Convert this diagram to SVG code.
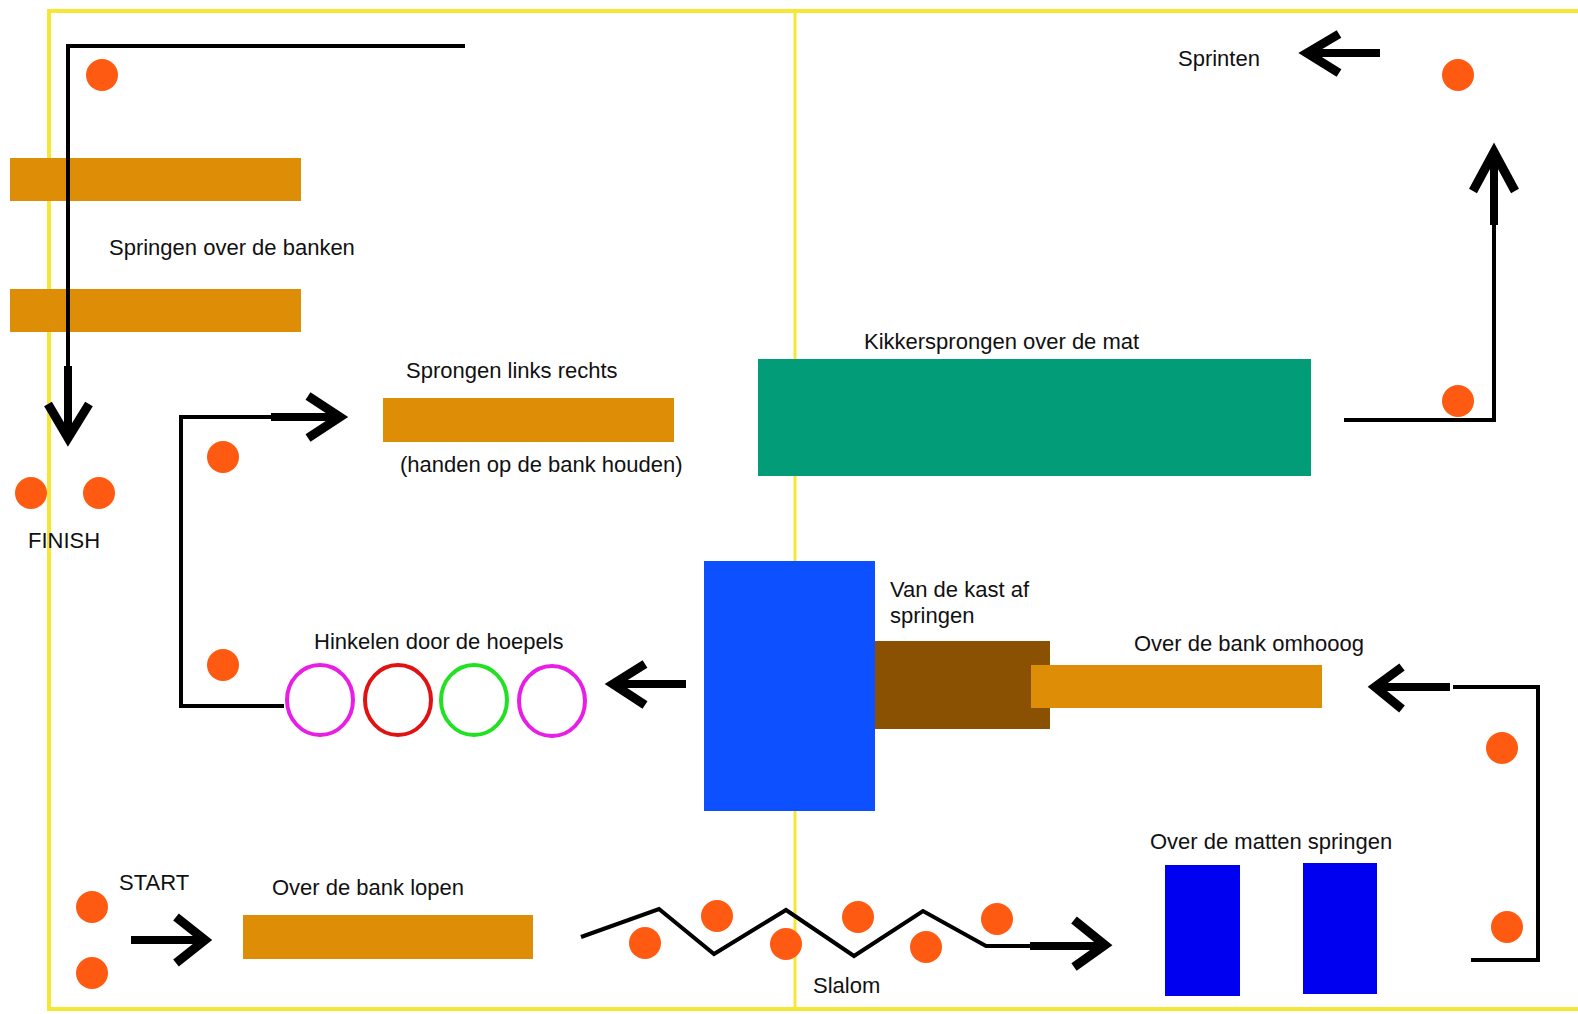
<svg xmlns="http://www.w3.org/2000/svg" width="1578" height="1014" viewBox="0 0 1578 1014">
<style>
text{font-family:"Liberation Sans",Arial,sans-serif;font-size:22px;fill:#111}
.bench{fill:#DD8E06}
.dot{fill:#FF5A12}
.thin{fill:none;stroke:#000;stroke-width:4;stroke-linejoin:miter}
.thick{fill:none;stroke:#000;stroke-width:8}
.head{fill:none;stroke:#000;stroke-width:9;stroke-linejoin:miter;stroke-miterlimit:10}
.hoop{fill:none;stroke-width:4}
.border{fill:none;stroke:#F5E734;stroke-width:4}
</style>
<rect width="1578" height="1014" fill="#fff"/>
<g id="field">
<path class="border" d="M1578,11 H49 V1009 H1578"/>
<line x1="795" y1="11" x2="795" y2="1009" stroke="#F5E734" stroke-width="3"/>
</g>
<g id="banken">
<rect class="bench" x="10" y="158" width="291" height="43"/>
<rect class="bench" x="10" y="289" width="291" height="43"/>
<text x="109" y="255">Springen over de banken</text>
</g>
<g id="finish">
<circle class="dot" cx="31" cy="493" r="16"/>
<circle class="dot" cx="99" cy="493" r="16"/>
<text x="28" y="548">FINISH</text>
</g>
<g id="sprongen">
<rect class="bench" x="383" y="398" width="291" height="44"/>
<text x="406" y="378">Sprongen links rechts</text>
<text x="400" y="472">(handen op de bank houden)</text>
</g>
<g id="kikker">
<rect x="758" y="359" width="553" height="117" fill="#039C78"/>
<text x="864" y="349">Kikkersprongen over de mat</text>
</g>
<g id="sprinten">
<text x="1178" y="66">Sprinten</text>
</g>
<g id="kast">
<rect x="704" y="561" width="171" height="250" fill="#0D50FF"/>
<rect x="875" y="641" width="175" height="88" fill="#8A5102"/>
<text x="890" y="597">Van de kast af</text>
<text x="890" y="623">springen</text>
</g>
<g id="omhoog">
<rect class="bench" x="1031" y="665" width="291" height="43"/>
<text x="1134" y="651">Over de bank omhooog</text>
</g>
<g id="hoepels">
<ellipse class="hoop" cx="320" cy="700" rx="33" ry="35" stroke="#E91EE6"/>
<ellipse class="hoop" cx="398" cy="700" rx="33" ry="35" stroke="#E01212"/>
<ellipse class="hoop" cx="474" cy="700" rx="33" ry="35" stroke="#22E022"/>
<ellipse class="hoop" cx="552" cy="701" rx="33" ry="35" stroke="#E91EE6"/>
<text x="314" y="649">Hinkelen door de hoepels</text>
</g>
<g id="start">
<circle class="dot" cx="92" cy="907" r="16"/>
<circle class="dot" cx="92" cy="973" r="16"/>
<text x="119" y="890">START</text>
</g>
<g id="lopen">
<rect class="bench" x="243" y="915" width="290" height="44"/>
<text x="272" y="895">Over de bank lopen</text>
</g>
<g id="slalom">
<circle class="dot" cx="645" cy="943" r="16"/>
<circle class="dot" cx="717" cy="916" r="16"/>
<circle class="dot" cx="786" cy="944" r="16"/>
<circle class="dot" cx="858" cy="917" r="16"/>
<circle class="dot" cx="926" cy="947" r="16"/>
<circle class="dot" cx="997" cy="919" r="16"/>
<text x="813" y="993">Slalom</text>
</g>
<g id="matten">
<rect x="1165" y="865" width="75" height="131" fill="#0000F0"/>
<rect x="1303" y="863" width="74" height="131" fill="#0000F0"/>
<text x="1150" y="849">Over de matten springen</text>
</g>
<g id="pionnen">
<circle class="dot" cx="102" cy="75" r="16"/>
<circle class="dot" cx="223" cy="457" r="16"/>
<circle class="dot" cx="223" cy="665" r="16"/>
<circle class="dot" cx="1458" cy="75" r="16"/>
<circle class="dot" cx="1458" cy="401" r="16"/>
<circle class="dot" cx="1502" cy="748" r="16"/>
<circle class="dot" cx="1507" cy="927" r="16"/>
</g>
<g id="connectors">
<path class="thin" d="M465,46 H68 V367"/>
<path class="thick" d="M68,366 V436"/>
<path class="head" d="M48,404 L68,438 L89,404"/>
<path class="thin" d="M284,706 H181 V417 H272"/>
<path class="thick" d="M271,417 H338"/>
<path class="head" d="M308,396 L340,417 L308,438"/>
<path class="thick" d="M1380,53 H1310"/>
<path class="head" d="M1339,34 L1307,53 L1339,73"/>
<path class="thin" d="M1344,420 H1494 V224"/>
<path class="thick" d="M1494,225 V154"/>
<path class="head" d="M1473,191 L1494,152 L1515,191"/>
<path class="thin" d="M1453,687 H1538 V960 H1471"/>
<path class="thick" d="M1450,687 H1378"/>
<path class="head" d="M1402,667 L1375,687 L1402,709"/>
<path class="thick" d="M686,684 H615"/>
<path class="head" d="M645,664 L613,684 L645,705"/>
<path class="thick" d="M131,940 H200"/>
<path class="head" d="M176,917 L205,940 L176,963"/>
<path class="thin" d="M581,937 L659,909 L714,954 L786,910 L854,956 L923,911 L986,946 H1030"/>
<path class="thick" d="M1030,946 H1100"/>
<path class="head" d="M1074,920 L1105,945 L1074,967"/>
</g>
</svg>
